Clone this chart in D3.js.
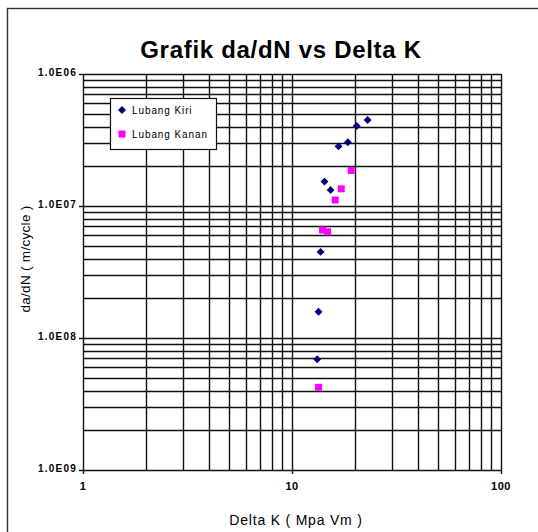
<!DOCTYPE html>
<html lang="en">
<head>
    <meta charset="UTF-8">
    <title>Grafik da/dN vs Delta K</title>
    <script src="https://d3js.org/d3.v7.min.js"></script>
    <style>
        body { margin: 0; background: white; font-family: Arial, "Liberation Sans", sans-serif; }
        svg { display: block; }
    </style>
</head>
<body>
    <svg width="538" height="532"></svg>

    <script>
        // Lubang Kiri (navy diamonds)
        const kiriDeltaK = [23.0, 20.4, 18.5, 16.7, 14.3, 15.3, 13.7, 13.4, 13.2];
        const kiriDadN   = [4.48e-7, 4.04e-7, 3.04e-7, 2.83e-7, 1.53e-7, 1.32e-7, 4.49e-8, 1.58e-8, 6.9e-9];

        // Lubang Kanan (magenta squares)
        const kananDeltaK = [19.2, 17.2, 16.1, 14.0, 14.8, 13.4];
        const kananDadN   = [1.86e-7, 1.35e-7, 1.11e-7, 6.58e-8, 6.38e-8, 4.23e-9];

        const xTicks = [1, 10, 100];
        const xTickLabels = ["1", "10", "100"];
        const yTicks = [1e-6, 1e-7, 1e-8, 1e-9];
        const yTickLabels = ["1.0E06", "1.0E07", "1.0E08", "1.0E09"];

        const svg = d3.select("svg");
        const plotLeft = 83, plotRight = 501, plotTop = 74, plotBottom = 470;

        const x = d3.scaleLog().domain([1, 100]).range([plotLeft, plotRight]);
        const y = d3.scaleLog().domain([1e-9, 1e-6]).range([plotBottom, plotTop]);

        // outer chart frame (cut off at right/bottom like the original)
        svg.append("rect").attr("x", 7.5).attr("y", 8.5).attr("width", 560).attr("height", 560)
            .attr("fill", "white").attr("stroke", "#333").attr("stroke-width", 1.4);

        // title
        svg.append("text").attr("x", 281).attr("y", 58).attr("text-anchor", "middle")
            .attr("font-size", "24px").attr("font-weight", "bold").attr("letter-spacing", "0.7px")
            .text("Grafik da/dN vs Delta K");

        // log grid values: every 1..9 in each decade
        const xGrid = [];
        for (let d = 1; d < 100; d *= 10) for (let k = 1; k <= 9; k++) xGrid.push(d * k);
        xGrid.push(100);
        const yGrid = [];
        for (let d = 1e-9; d < 1e-6 * 0.99; d *= 10) for (let k = 1; k <= 9; k++) yGrid.push(d * k);
        yGrid.push(1e-6);

        const grid = svg.append("g").attr("stroke", "#111").attr("stroke-width", 1.4);
        grid.selectAll(".gx").data(xGrid).enter().append("line")
            .attr("x1", d => Math.round(x(d)) + 0.5).attr("x2", d => Math.round(x(d)) + 0.5)
            .attr("y1", plotTop).attr("y2", plotBottom);
        grid.selectAll(".gy").data(yGrid).enter().append("line")
            .attr("y1", d => Math.round(y(d)) + 0.5).attr("y2", d => Math.round(y(d)) + 0.5)
            .attr("x1", plotLeft).attr("x2", plotRight);

        // major tick marks outside the plot
        grid.selectAll(".ty").data(yTicks).enter().append("line")
            .attr("y1", d => Math.round(y(d)) + 0.5).attr("y2", d => Math.round(y(d)) + 0.5)
            .attr("x1", plotLeft - 4).attr("x2", plotLeft);
        grid.selectAll(".tx").data(xTicks).enter().append("line")
            .attr("x1", d => Math.round(x(d)) + 0.5).attr("x2", d => Math.round(x(d)) + 0.5)
            .attr("y1", plotBottom).attr("y2", plotBottom + 4);

        // tick labels
        svg.selectAll(".yl").data(yTicks).enter().append("text")
            .attr("x", plotLeft - 6).attr("y", d => y(d) + 2).attr("text-anchor", "end")
            .attr("font-size", "10px").attr("font-weight", "bold").attr("letter-spacing", "1.2px")
            .text((d, i) => yTickLabels[i]);
        svg.selectAll(".xl").data(xTicks).enter().append("text")
            .attr("x", d => x(d)).attr("y", plotBottom + 20).attr("text-anchor", "middle")
            .attr("font-size", "11px").attr("font-weight", "bold").attr("letter-spacing", "0.5px")
            .text((d, i) => xTickLabels[i]);

        // axis titles
        svg.append("text").attr("x", 296).attr("y", 525).attr("text-anchor", "middle")
            .attr("font-size", "14px").attr("letter-spacing", "0.8px").text("Delta K ( Mpa Vm )");
        svg.append("text").attr("transform", "translate(30,259) rotate(-90)").attr("text-anchor", "middle")
            .attr("font-size", "13.5px").attr("letter-spacing", "0.3px").text("da/dN ( m/cycle )");

        // data points
        const kiri = kiriDeltaK.map((k, i) => ({ k: k, v: kiriDadN[i] }));
        const kanan = kananDeltaK.map((k, i) => ({ k: k, v: kananDadN[i] }));

        svg.selectAll(".kanan").data(kanan).enter().append("rect")
            .attr("x", d => x(d.k) - 3.5).attr("y", d => y(d.v) - 3.5)
            .attr("width", 7).attr("height", 7).attr("fill", "#ff00ff");

        const diamond = d3.symbol().type(d3.symbolDiamond2).size(40);
        svg.selectAll(".kiri").data(kiri).enter().append("path")
            .attr("transform", d => `translate(${x(d.k)},${y(d.v)})`)
            .attr("d", diamond).attr("fill", "#000080");

        // legend
        const lg = svg.append("g");
        lg.append("rect").attr("x", 110.5).attr("y", 98.5).attr("width", 106).attr("height", 51)
            .attr("fill", "white").attr("stroke", "#111").attr("stroke-width", 1.2);
        lg.append("path").attr("transform", "translate(122,110)").attr("d", diamond).attr("fill", "#000080");
        lg.append("rect").attr("x", 118.5).attr("y", 130.5).attr("width", 7).attr("height", 7).attr("fill", "#ff00ff");
        lg.append("text").attr("x", 132).attr("y", 113.5).attr("font-size", "10px").attr("letter-spacing", "0.9px")
            .text("Lubang Kiri");
        lg.append("text").attr("x", 132).attr("y", 137.5).attr("font-size", "10px").attr("letter-spacing", "0.9px")
            .text("Lubang Kanan");
    </script>
</body>
</html>
